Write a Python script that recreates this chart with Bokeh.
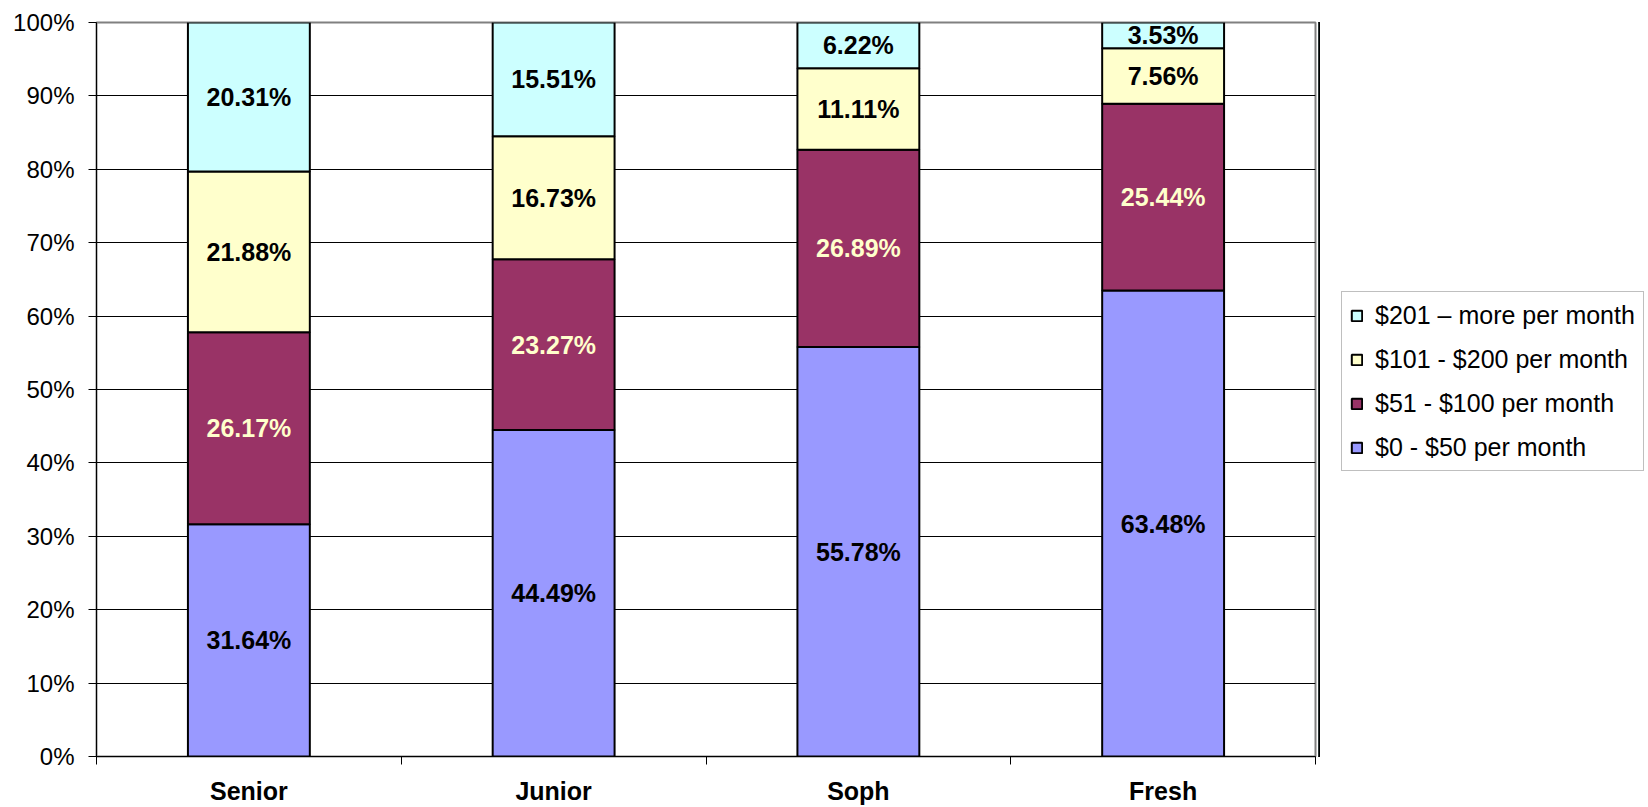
from bokeh.plotting import figure
from bokeh.layouts import row
from bokeh.models import (ColumnDataSource, Range1d, FixedTicker, PrintfTickFormatter,
                          Legend, LegendItem)
from bokeh.core.properties import value
from bokeh.embed import file_html
from bokeh.resources import INLINE

categories = ["Senior", "Junior", "Soph", "Fresh"]
series_names = ["$0 - $50 per month", "$51 - $100 per month",
                "$101 - $200 per month", "$201 \u2013 more per month"]
s0_50 = [31.64, 44.49, 55.78, 63.48]
s51_100 = [26.17, 23.27, 26.89, 25.44]
s101_200 = [21.88, 16.73, 11.11, 7.56]
s201_more = [20.31, 15.51, 6.22, 3.53]
y_ticks = [0, 10, 20, 30, 40, 50, 60, 70, 80, 90, 100]

colors = ["#9999FF", "#993366", "#FFFFCC", "#CCFFFF"]
label_colors = ["black", "#FFFFCC", "black", "black"]
FONT = "Liberation Sans"

series = [s0_50, s51_100, s101_200, s201_more]
keys = ["s0", "s1", "s2", "s3"]
xpos = [i + 0.5 for i in range(len(categories))]

data = {"x": xpos}
for k, s in zip(keys, series):
    data[k] = s
src = ColumnDataSource(data)

W, H = 1648, 807
PW = 1318
p = figure(width=PW, height=H, output_backend="svg", toolbar_location=None,
           x_range=Range1d(0, len(categories)), y_range=Range1d(0, 100),
           min_border_left=96, min_border_top=22, min_border_right=3,
           min_border_bottom=50)

renderers = p.vbar_stack(keys, x="x", width=0.4, source=src, color=colors,
                         line_color="black", line_width=2)

# labels
lx, ly, lt, lc = [], [], [], []
for i in range(len(categories)):
    base = 0.0
    for j, s in enumerate(series):
        v = s[i]
        lx.append(xpos[i])
        ly.append(base + v / 2.0)
        lt.append("%.2f%%" % v)
        lc.append(label_colors[j])
        base += v
lsrc = ColumnDataSource(dict(x=lx, y=ly, t=lt, c=lc))
p.text(x="x", y="y", text="t", text_color="c", source=lsrc,
       text_font=value(FONT), text_font_size="25px", text_font_style="bold",
       text_align="center", text_baseline="middle")

# axes
xa = p.xaxis[0]
xa.ticker = FixedTicker(ticks=xpos, minor_ticks=list(range(len(categories) + 1)))
xa.major_label_overrides = {x: c for x, c in zip(xpos, categories)}
xa.major_tick_out = 0
xa.major_tick_in = 0
xa.minor_tick_out = 8
xa.minor_tick_in = 0
xa.minor_tick_line_color = "black"
xa.axis_line_color = "black"
xa.major_label_text_font = FONT
xa.major_label_text_font_size = "25px"
xa.major_label_text_font_style = "bold"
xa.major_label_text_color = "black"
xa.major_label_standoff = 12

ya = p.yaxis[0]
ya.ticker = FixedTicker(ticks=y_ticks)
ya.formatter = PrintfTickFormatter(format="%d%%")
ya.major_tick_out = 8
ya.major_tick_in = 0
ya.minor_tick_line_color = None
ya.major_tick_line_color = "black"
ya.axis_line_color = "black"
ya.major_label_text_font = FONT
ya.major_label_text_font_size = "24px"
ya.major_label_text_color = "black"
ya.major_label_standoff = 14

p.xgrid.grid_line_color = None
p.ygrid.ticker = FixedTicker(ticks=y_ticks[1:-1])
p.ygrid.grid_line_color = "black"
p.ygrid.grid_line_width = 1

p.outline_line_color = "#808080"
p.outline_line_width = 2
p.background_fill_color = "white"
p.border_fill_color = "white"

# legend panel as a separate figure (its proxy bars sit outside its visible range)
lf = figure(width=W - PW, height=H, output_backend="svg", toolbar_location=None,
            x_range=Range1d(1000, 1001), y_range=Range1d(0, 1),
            x_axis_type=None, y_axis_type=None,
            min_border_left=0, min_border_right=0, min_border_top=0, min_border_bottom=0)
lf.outline_line_color = None
lf.xgrid.grid_line_color = None
lf.ygrid.grid_line_color = None
lf.border_fill_color = "white"
lf.background_fill_color = "white"

proxies = [lf.vbar(x="x", top=k, width=0.4, source=src, fill_color=c,
                   line_color="black", line_width=2) for k, c in zip(keys, colors)]

items = [LegendItem(label=series_names[j], renderers=[proxies[j]]) for j in range(3, -1, -1)]
legend = Legend(items=items, location=(23, 285), margin=0, padding=8,
                spacing=14, label_height=30, glyph_height=13, glyph_width=13,
                label_standoff=12, label_text_font=FONT, label_text_font_size="25px",
                label_text_color="black", border_line_color="#808080",
                border_line_width=1, background_fill_color="white",
                background_fill_alpha=1.0)
lf.add_layout(legend, "center")

layout = row(p, lf)
open("out.html", "w").write(file_html(layout, INLINE))
